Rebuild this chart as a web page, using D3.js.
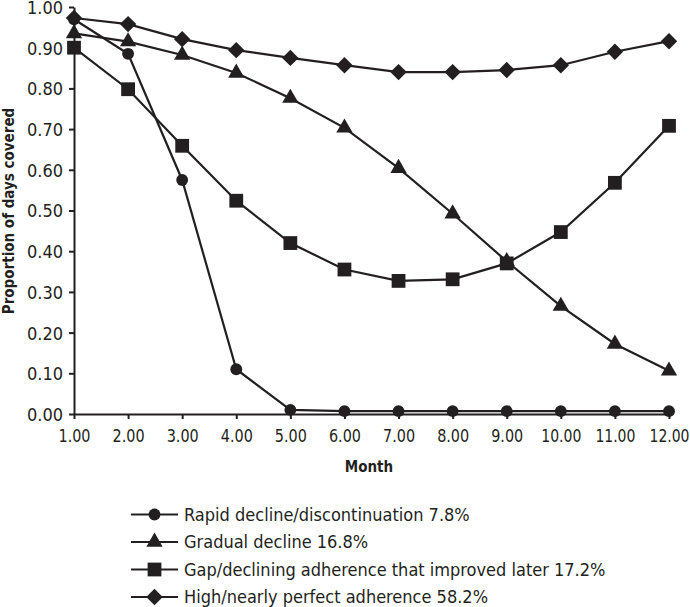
<!DOCTYPE html>
<html><head><meta charset="utf-8">
<script src="https://cdn.jsdelivr.net/npm/d3@7"></script>
<style>body{margin:0;background:#fff}svg{display:block}</style>
</head><body><svg id="c" width="690" height="607"></svg>
<script>
const months = [1,2,3,4,5,6,7,8,9,10,11,12];
const rapid = [0.97,0.885,0.575,0.11,0.01,0.007,0.007,0.007,0.007,0.007,0.007,0.007];
const gradual = [0.935,0.915,0.882,0.838,0.776,0.703,0.604,0.492,0.375,0.265,0.172,0.106];
const gap = [0.90,0.798,0.659,0.524,0.42,0.355,0.327,0.331,0.37,0.447,0.568,0.708];
const high = [0.973,0.958,0.921,0.894,0.875,0.857,0.84,0.84,0.845,0.857,0.89,0.916];
const seriesNames = ["Rapid decline/discontinuation 7.8%","Gradual decline 16.8%","Gap/declining adherence that improved later 17.2%","High/nearly perfect adherence 58.2%"];
const seriesSymbols = ["circle","triangle","square","diamond"];
const yTicks = [0,0.1,0.2,0.3,0.4,0.5,0.6,0.7,0.8,0.9,1.0];

const FONT = "'Liberation Sans Narrow','DejaVu Sans Condensed','Roboto Condensed',sans-serif";
const svg = d3.select("#c");
const x = d3.scaleLinear().domain([1,12]).range([74,669]);
const y = d3.scaleLinear().domain([0,1]).range([414,7]);
const ink = "#231f20";

const xAxis = svg.append("g").attr("transform","translate(0,414)")
  .call(d3.axisBottom(x).tickValues(months).tickFormat(d3.format(".2f")).tickSize(5).tickSizeOuter(0));
const yAxis = svg.append("g").attr("transform","translate(74,0)")
  .call(d3.axisLeft(y).tickValues(yTicks).tickFormat(d3.format(".2f")).tickSize(5).tickSizeOuter(0));
[xAxis,yAxis].forEach(a=>{
  a.selectAll("path,line").attr("stroke",ink).attr("stroke-width",2);
  a.selectAll("text").attr("fill",ink).style("font-family",FONT);
});
xAxis.selectAll("text").attr("y",15).style("font-size","18px")
  .attr("textLength",d=>d>=10?40:32).attr("lengthAdjust","spacingAndGlyphs");
yAxis.selectAll("text").attr("x",-11).attr("dy","0.36em").style("font-size","18px");

svg.append("text").attr("transform","translate(14,211) rotate(-90)").attr("text-anchor","middle")
  .style("font-family",FONT).style("font-size","15px").style("font-weight","bold").attr("fill",ink)
  .text("Proportion of days covered");
svg.append("text").attr("x",369).attr("y",472).attr("text-anchor","middle")
  .style("font-family",FONT).style("font-size","15px").style("font-weight","bold").attr("fill",ink)
  .text("Month");

const symMap = {circle:[d3.symbolCircle,110,0],triangle:[d3.symbolTriangle,115,0],square:[d3.symbolSquare,190,0],diamond:[d3.symbolSquare,135,45]};
function marker(g,type,cx,cy){
  const [s,size,rot]=symMap[type];
  g.append("path").attr("d",d3.symbol(s,size)()).attr("transform",`translate(${cx},${cy}) rotate(${rot})`).attr("fill",ink);
}
const data = [rapid,gradual,gap,high];
const line = d3.line().x((d,i)=>x(months[i])).y(d=>y(d));
data.forEach((vals,k)=>{
  const g = svg.append("g");
  g.append("path").datum(vals).attr("d",line).attr("fill","none").attr("stroke",ink).attr("stroke-width",2.2);
  vals.forEach((v,i)=>marker(g,seriesSymbols[k],x(months[i]),y(v)));
});

const lg = svg.append("g");
seriesNames.forEach((n,i)=>{
  const yy = 514.5 + i*27.5;
  lg.append("line").attr("x1",131).attr("x2",178).attr("y1",yy).attr("y2",yy).attr("stroke",ink).attr("stroke-width",2.2);
  marker(lg,seriesSymbols[i],154.5,yy);
  lg.append("text").attr("x",184).attr("y",yy).attr("dy","0.36em")
    .style("font-family",FONT).style("font-size","18px").attr("fill",ink).text(n);
});
</script></body></html>
